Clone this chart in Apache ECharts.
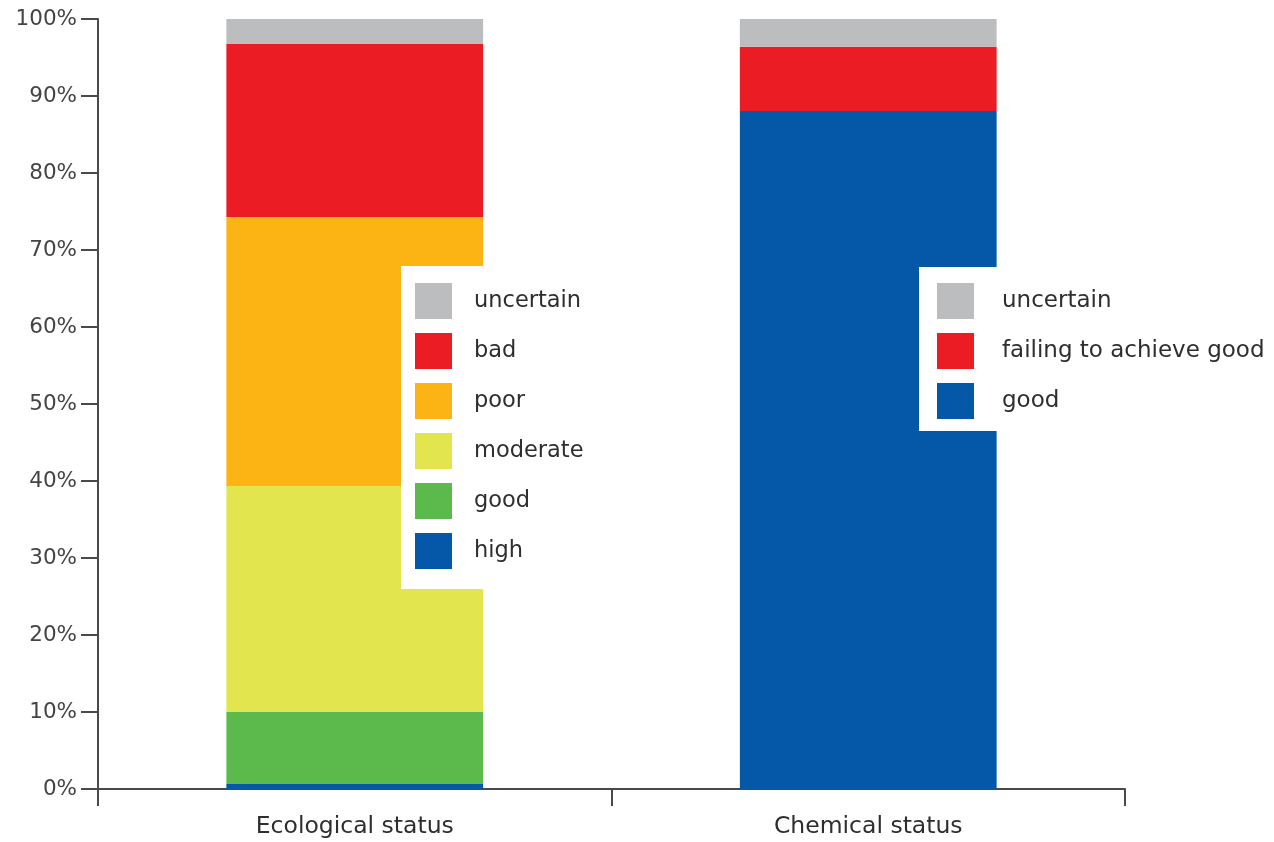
<!DOCTYPE html>
<html>
<head>
<meta charset="utf-8">
<script src="https://cdn.jsdelivr.net/npm/echarts@6/dist/echarts.min.js"></script>
<style>
  html, body { margin: 0; padding: 0; background: #fff; }
  #chart { width: 1274px; height: 842px; }
</style>
</head>
<body>
<div id="chart"></div>
<script>
// Status categories on the x axis
const categories = ['Ecological status', 'Chemical status'];

// Ecological status classes, bottom of the stack first (share of water bodies, %)
const ecoClasses = ['high', 'good', 'moderate', 'poor', 'bad', 'uncertain'];
const ecoShares = [0.65, 9.35, 29.35, 34.95, 22.45, 3.25];
const ecoColors = ['#0458a7', '#5cb94b', '#e3e54f', '#fcb415', '#ec1c24', '#bbbdbf'];

// Chemical status classes, bottom of the stack first (%)
const chemClasses = ['good', 'failing to achieve good', 'uncertain'];
const chemShares = [88.05, 8.35, 3.6];
const chemColors = ['#0458a7', '#ec1c24', '#bbbdbf'];

// Percentage axis
const yMin = 0, yMax = 100, yStep = 10;

const FONT = 'DejaVu Sans';
const AXIS_COLOR = '#4a4a4a';

function makeSeries(prefix, classes, shares, colors, catIndex) {
  return classes.map((cls, i) => ({
    name: prefix + ': ' + cls,
    type: 'bar',
    stack: 'status',
    barWidth: '50%',
    itemStyle: { color: colors[i] },
    emphasis: { disabled: true },
    data: categories.map((c, k) => (k === catIndex ? shares[i] : null))
  }));
}

const ecoSeries = makeSeries(categories[0], ecoClasses, ecoShares, ecoColors, 0);
const chemSeries = makeSeries(categories[1], chemClasses, chemShares, chemColors, 1);

function legendBlock(series, left, top, padding, textGap, fontSize) {
  return {
    orient: 'vertical',
    left: left,
    top: top,
    padding: padding,
    backgroundColor: '#ffffff',
    icon: 'rect',
    itemWidth: 37,
    itemHeight: 36,
    itemGap: 14,
    selectedMode: false,
    data: series.map(s => s.name).reverse(),
    formatter: name => name.split(': ')[1],
    textStyle: {
      fontFamily: FONT,
      fontSize: fontSize,
      color: '#2e2e2e',
      padding: [0, 0, 0, textGap]
    }
  };
}

const chart = echarts.init(document.getElementById('chart'), null, { renderer: 'canvas' });

chart.setOption({
  animation: false,
  backgroundColor: '#ffffff',
  grid: { left: 98, right: 149, top: 19, bottom: 53, containLabel: false },
  xAxis: {
    type: 'category',
    data: categories,
    axisLine: { lineStyle: { color: AXIS_COLOR, width: 2 } },
    axisTick: { show: true, length: 17, lineStyle: { color: AXIS_COLOR, width: 2 } },
    axisLabel: { margin: 26, fontFamily: FONT, fontSize: 23.5, color: '#2e2e2e' }
  },
  yAxis: {
    type: 'value',
    min: yMin,
    max: yMax,
    interval: yStep,
    axisLine: { show: true, lineStyle: { color: AXIS_COLOR, width: 2 } },
    axisTick: { show: true, length: 17, lineStyle: { color: AXIS_COLOR, width: 2 } },
    splitLine: { show: false },
    axisLabel: {
      formatter: '{value}%',
      margin: 21,
      fontFamily: FONT,
      fontSize: 21.5,
      color: '#444444'
    }
  },
  legend: [
    legendBlock(ecoSeries, 401, 266, [17, 14, 20, 14], 17, 22.5),
    legendBlock(chemSeries, 919, 267, [16, 20, 12, 18], 23, 23)
  ],
  series: ecoSeries.concat(chemSeries)
});
</script>
</body>
</html>
